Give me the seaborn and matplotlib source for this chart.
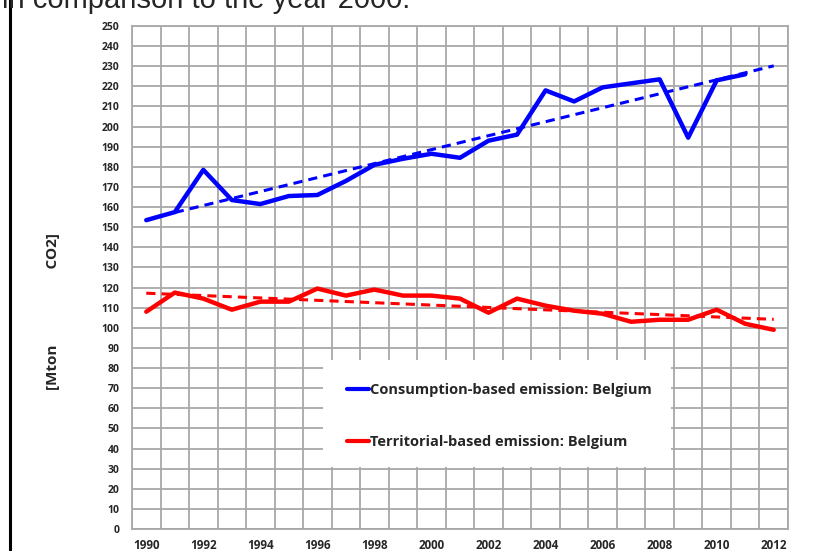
import matplotlib
matplotlib.use("Agg")
import matplotlib.pyplot as plt
from matplotlib.patches import Rectangle
import numpy as np
import pandas as pd
import seaborn as sns

# data
years_cons = list(range(1990, 2012))
consumption = [153.5, 157.5, 178.5, 163.5, 161.5, 165.5, 166.0, 173.0, 181.0, 184.0, 186.5,
               184.5, 193.0, 196.0, 218.0, 212.5, 219.5, 221.5, 223.5, 194.5, 223.0, 226.0]
years_terr = list(range(1990, 2013))
territorial = [108.0, 117.5, 114.5, 109.0, 113.0, 113.0, 119.5, 116.0, 119.0, 116.0, 116.0,
               114.5, 107.5, 114.5, 111.0, 108.5, 107.0, 103.0, 104.0, 104.0, 109.0, 102.0, 99.0]
trend_cons_years = [1991, 2012]
trend_cons = [157.3, 230.2]
trend_terr_years = [1990, 2012]
trend_terr = [117.2, 104.2]

label_cons = "Consumption-based emission: Belgium"
label_terr = "Territorial-based emission: Belgium"

df_cons = pd.DataFrame({"year": years_cons, "value": consumption})
df_terr = pd.DataFrame({"year": years_terr, "value": territorial})
df_tc = pd.DataFrame({"year": trend_cons_years, "value": trend_cons})
df_tt = pd.DataFrame({"year": trend_terr_years, "value": trend_terr})

sns.set_style("white")
plt.rcParams["font.family"] = ["Open Sans", "DejaVu Sans"]

W, H = 829, 551
fig = plt.figure(figsize=(W / 100, H / 100), dpi=100)
ax = fig.add_axes([132 / W, 1 - 529 / H, 656 / W, 503 / H])

blue, red = "#0000ff", "#ff0000"
sns.lineplot(data=df_tc, x="year", y="value", ax=ax, color=blue, lw=2.2, zorder=4)
ax.lines[-1].set_dashes((3, 2))
sns.lineplot(data=df_tt, x="year", y="value", ax=ax, color=red, lw=2.2, zorder=4)
ax.lines[-1].set_dashes((3, 2))
sns.lineplot(data=df_cons, x="year", y="value", ax=ax, color=blue, lw=3.2,
             label=label_cons, zorder=5)
sns.lineplot(data=df_terr, x="year", y="value", ax=ax, color=red, lw=3.2,
             label=label_terr, zorder=5)

ax.set_xlim(1989.5, 2012.5)
ax.set_ylim(0, 250)
ax.set_xticks(range(1990, 2013, 2))
ax.set_xticks(np.arange(1989.5, 2013, 1), minor=True)
ax.set_yticks(range(0, 251, 10))
ax.set_xlabel("")
ax.set_ylabel("")

gc = "#a8a8a8"
ax.grid(False)
ax.grid(True, which="minor", axis="x", color=gc, lw=1.3, zorder=0)
ax.grid(True, which="major", axis="y", color=gc, lw=1.3, zorder=0)
ax.set_axisbelow(True)
for s in ax.spines.values():
    s.set_color(gc)
    s.set_linewidth(1.3)

ax.tick_params(axis="x", which="major", length=0, pad=7, labelsize=8.4)
ax.tick_params(axis="x", which="minor", length=5, color=gc, width=1.2)
ax.tick_params(axis="y", which="major", length=5, color=gc, width=1.2, pad=4, labelsize=7.5)
for t in ax.get_xticklabels() + ax.get_yticklabels():
    t.set_fontweight("bold")

# white legend panel
ax.add_patch(Rectangle(((323 - 132) / 656, (529 - 467) / 503), (671 - 323) / 656,
                       (467 - 360) / 503, transform=ax.transAxes, facecolor="white",
                       edgecolor="none", zorder=6))
leg = ax.legend(loc="upper left", bbox_to_anchor=((334 - 132) / 656, (529 - 370) / 503),
                frameon=False, handlelength=1.5, handletextpad=0.05, labelspacing=2.6,
                prop={"weight": "bold", "size": 10.5})
leg.set_zorder(7)
for h in leg.get_lines():
    h.set_linewidth(3)

fig.text(53 / W, 1 - 311 / H, "[Mton" + " " * 19 + "CO2]", rotation=90, ha="center",
         va="center", fontsize=11, fontweight="bold")

# screenshot frame and clipped caption
fig.add_artist(Rectangle((10 / W, -0.2), 1.2, 1.2 + 1 - 15 / H, transform=fig.transFigure,
                         facecolor="none", edgecolor="black", lw=2.2))
fig.text(410 / W, 1 - 7.5 / H, "in comparison to the year 2000.", ha="right", va="baseline",
         fontsize=21, family=["Liberation Sans", "DejaVu Sans"])

fig.savefig("out.png", dpi=100)
